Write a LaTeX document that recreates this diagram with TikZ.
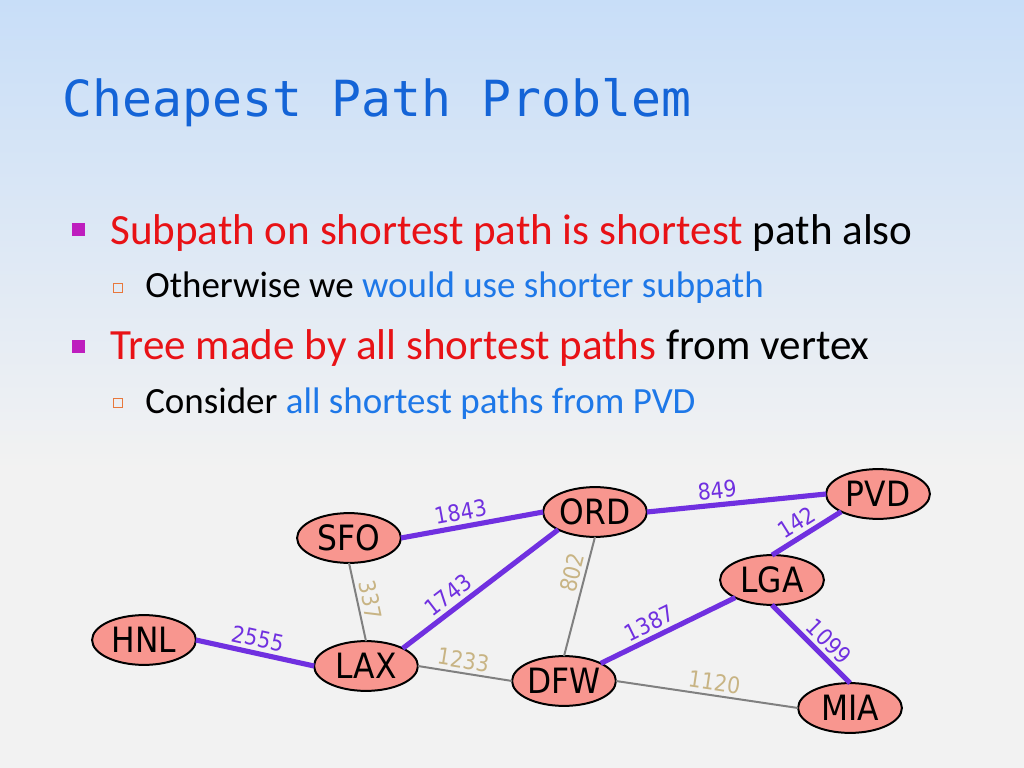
\documentclass[tikz,border=0pt]{standalone}
\usepackage{fontspec}
\setmainfont{Carlito}
\newfontfamily\titlefont{DejaVu Sans Mono}
\newfontfamily\cityfont{DejaVu Sans Condensed}
\usetikzlibrary{shapes.geometric}
\definecolor{titleblue}{RGB}{20,100,215}
\definecolor{hotred}{RGB}{232,18,22}
\definecolor{linkblue}{RGB}{30,120,232}
\definecolor{pathpurple}{RGB}{112,48,224}
\definecolor{costtan}{RGB}{200,180,132}
\definecolor{cityfill}{RGB}{248,150,143}
\definecolor{bgtop}{RGB}{200,222,248}
\definecolor{bgbottom}{RGB}{242,242,242}
\definecolor{bulletmag}{RGB}{190,30,190}
\definecolor{bulletorange}{RGB}{232,120,60}

\begin{document}
\begin{tikzpicture}[x=0.703125pt, y=0.703125pt,
        city/.style={ellipse, draw=black, line width=1.4pt, fill=cityfill, minimum width=73pt, minimum height=35pt, inner sep=0pt, outer sep=0pt, font=\cityfont\fontsize{24.5}{28}\selectfont},
        tree/.style={pathpurple, line width=3.6pt},
        road/.style={gray, line width=1.4pt},
        treecost/.style={sloped, above, inner sep=2.5pt, text=pathpurple, font=\cityfont\fontsize{16}{19}\selectfont},
        roadcost/.style={sloped, above, inner sep=2.5pt, text=costtan, font=\cityfont\fontsize{16}{19}\selectfont},
        lvlone/.style={anchor=base west, inner sep=0pt, font=\fontsize{30.3}{36}\selectfont},
        lvltwo/.style={anchor=base west, inner sep=0pt, font=\fontsize{26}{31}\selectfont}]
        \useasboundingbox (0,0) rectangle (1024,-768);
        \shade [top color=bgtop, bottom color=bgbottom] (0,0) rectangle (1024,-470);
        \fill [bgbottom] (0,-470) rectangle (1024,-768);
        \node [anchor=base west, inner sep=0pt, text=titleblue, font=\titlefont\fontsize{35}{42}\selectfont] (title) at (62,-117) {Cheapest Path Problem};
        \fill [bulletmag] (72,-223) rectangle (85,-236);
        \node [lvlone] (pointa) at (110,-245) {\textcolor{hotred}{Subpath on shortest path is shortest} path also};
        \draw [bulletorange, line width=1pt] (113.5,-283.5) rectangle (122.5,-292.5);
        \node [lvltwo] (pointb) at (145,-298) {Otherwise we \textcolor{linkblue}{would use shorter subpath}};
        \fill [bulletmag] (72,-340) rectangle (85,-353);
        \node [lvlone] (pointc) at (110,-359) {\textcolor{hotred}{Tree made by all shortest paths} from vertex};
        \draw [bulletorange, line width=1pt] (113.5,-398.5) rectangle (122.5,-407.5);
        \node [lvltwo] (pointd) at (145,-413) {Consider \textcolor{linkblue}{all shortest paths from PVD}};
        \node [city] (SFO) at (349,-538) {SFO};
        \node [city] (HNL) at (144,-640) {HNL};
        \node [city] (LAX) at (366,-666) {LAX};
        \node [city] (ORD) at (595,-512) {ORD};
        \node [city] (DFW) at (564,-681) {DFW};
        \node [city] (PVD) at (878,-494) {PVD};
        \node [city] (LGA) at (772,-580) {LGA};
        \node [city] (MIA) at (850,-708) {MIA};
        \draw [road] (SFO.south) -- node [roadcost, pos=0.51] {337} (LAX.north);
        \draw [road] (ORD.south) -- node [roadcost, pos=0.33] {802} (DFW.north);
        \draw [road] (LAX.east) -- node [roadcost, pos=0.46] {1233} (DFW.west);
        \draw [road] (DFW.east) -- node [roadcost, pos=0.53] {1120} (MIA.west);
        \draw [tree] (SFO.east) -- node [treecost, pos=0.44] {1843} (ORD.west);
        \draw [tree] (HNL.east) -- node [treecost, pos=0.5] {2555} (LAX.west);
        \draw [tree] (LAX.north east) -- node [treecost, pos=0.35] {1743} (ORD.south west);
        \draw [tree] (ORD.east) -- node [treecost, pos=0.4] {849} (PVD.west);
        \draw [tree] (PVD.south west) -- node [treecost, pos=0.53] {142} (LGA.north);
        \draw [tree] (DFW.north east) -- node [treecost, pos=0.41] {1387} (LGA.south west);
        \draw [tree] (LGA.south) -- node [treecost, pos=0.6] {1099} (MIA.north);
\end{tikzpicture}
\end{document}
